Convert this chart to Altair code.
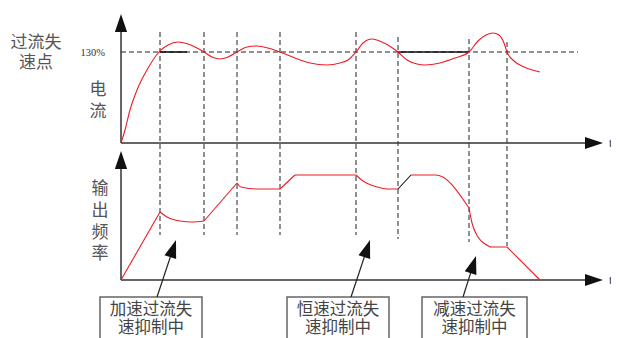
import math
import altair as alt
import pandas as pd

# ---------------- data (schematic coordinates, horizontal t / vertical v) ----------------
# current curve (top panel)
cur_t = [121, 125, 130, 137, 147, 159, 168, 178, 188, 197, 204, 212, 220, 228, 237, 247, 257, 268,
         280, 295, 310, 327, 340, 348, 356, 363, 372, 382, 391, 398, 407, 417, 425, 440, 455, 469,
         478, 486, 493, 499, 504, 507, 514, 524, 540]
cur_v = [143, 130, 110, 90, 70, 52, 45, 42, 44, 48, 52, 57, 59, 57, 52, 47, 46, 48,
         52, 58, 63, 65, 63, 60, 52, 43, 39, 42, 47, 52, 60, 64, 65, 63, 58, 52,
         41, 35, 33, 35, 43, 52, 61, 67, 72]

# output frequency (bottom panel), split into segments
freq_seg = [0, 0,
            1, 1, 1, 1, 1,
            2, 2,
            3, 3, 3, 3,
            4, 4,
            5, 5,
            6, 6, 6, 6, 6,
            7, 7,
            8, 8, 8,
            9, 9, 9, 9, 9, 9,
            10, 10]
freq_t = [121, 160,
          160, 167, 180, 192, 204,
          204, 237,
          237, 241, 257, 280,
          280, 295,
          295, 356,
          356, 363, 377, 387, 398,
          398, 411,
          411, 436, 469,
          469, 472, 478, 485, 492, 507,
          507, 540]
freq_v = [280, 212,
          212, 217, 221, 222, 221,
          221, 183,
          183, 187, 189, 189,
          189, 175,
          175, 175,
          175, 181, 187, 189, 189,
          189, 175,
          175, 175, 208,
          208, 223, 237, 244, 247, 247,
          247, 280]
seg_color = ["#ee1c25"] * 7 + ["#111111"] + ["#ee1c25"] * 3

# 130% level
level_v = 52
level_t = [121, 578]
solid_t1 = [160, 398]
solid_t2 = [187, 469]

# vertical dashed markers
mark_t = [160, 204, 237, 280, 356, 398, 469, 507]
mark_top = [32, 32, 32, 32, 32, 37, 39, 42]
mark_bot = [235, 235, 235, 235, 235, 239, 242, 246]

# annotation boxes
box_l = [100, 287, 422]
box_r = [202, 389, 527]
box_line1 = ["加速过流失", "恒速过流失", "减速过流失"]
box_line2 = ["速抑制中", "速抑制中", "速抑制中"]
arrow_t0 = [157, 351, 463]
arrow_v0 = [297, 297, 297]
arrow_t1 = [176, 370, 476]
arrow_v1 = [240, 240, 256]

# labels
left_labels = ["过流失", "速点", "电", "流", "输", "出", "频", "率"]
left_t = [36, 36, 98, 98, 100, 100, 100, 100]
left_v = [43, 63, 90, 112, 189, 211, 233, 254]

# axes
ax_origin_v = [143, 280]
ax_top = [14, 151]
ax_left = 121
ax_right = 603

# ---------------- scales ----------------
xs = alt.Scale(domain=[8, 611], nice=False, zero=False)
ys = alt.Scale(domain=[8, 338], nice=False, zero=False, reverse=True)
X = lambda f: alt.X(f, type="quantitative", scale=xs, axis=None)
Y = lambda f: alt.Y(f, type="quantitative", scale=ys, axis=None)

AXC = "#333333"
HEAD = "M0,-1L0.68,1L-0.68,1Z"
R = 9  # arrowhead half-length

# axis lines
ax_rows = []
for i, v0 in enumerate(ax_origin_v):
    ax_rows.append(dict(x=ax_left, y=v0, x2=ax_left, y2=ax_top[i] + 2 * R))
    ax_rows.append(dict(x=ax_left, y=v0, x2=ax_right - 2 * R, y2=v0))
axes = alt.Chart(pd.DataFrame(ax_rows)).mark_rule(color=AXC, strokeWidth=1.5).encode(
    x=X("x"), y=Y("y"), x2="x2", y2="y2")

head_rows = []
for i, v0 in enumerate(ax_origin_v):
    head_rows.append(dict(x=ax_left, y=ax_top[i] + R, a=0))
    head_rows.append(dict(x=ax_right - R, y=v0, a=90))
for i in range(3):
    dx = arrow_t1[i] - arrow_t0[i]
    dy = arrow_v1[i] - arrow_v0[i]
    L = math.hypot(dx, dy)
    ang = math.degrees(math.atan2(dx, -dy))
    head_rows.append(dict(x=arrow_t1[i] - R * dx / L, y=arrow_v1[i] - R * dy / L, a=ang))
heads = alt.Chart(pd.DataFrame(head_rows)).mark_point(
    shape=HEAD, filled=True, color="#111111", opacity=1, size=(2 * R) ** 2, strokeWidth=0
).encode(x=X("x"), y=Y("y"), angle=alt.Angle("a:Q", scale=None))

# annotation arrow shafts
shaft_rows = []
for i in range(3):
    dx = arrow_t1[i] - arrow_t0[i]
    dy = arrow_v1[i] - arrow_v0[i]
    L = math.hypot(dx, dy)
    shaft_rows.append(dict(x=arrow_t0[i], y=arrow_v0[i],
                           x2=arrow_t1[i] - R * dx / L, y2=arrow_v1[i] - R * dy / L))
shafts = alt.Chart(pd.DataFrame(shaft_rows)).mark_rule(color="#222222", strokeWidth=1.2).encode(
    x=X("x"), y=Y("y"), x2="x2", y2="y2")

# 130% dashed level and solid pieces
level = alt.Chart(pd.DataFrame(dict(x=[level_t[0]], x2=[level_t[1]], y=[level_v]))).mark_rule(
    color="#222222", strokeWidth=1.2, strokeDash=[5, 3]).encode(x=X("x"), x2="x2", y=Y("y"))
solid = alt.Chart(pd.DataFrame(dict(x=solid_t1, x2=solid_t2, y=[level_v] * 2))).mark_rule(
    color="#111111", strokeWidth=1.6).encode(x=X("x"), x2="x2", y=Y("y"))

# vertical dashed markers
vmarks = alt.Chart(pd.DataFrame(dict(x=mark_t, y=mark_top, y2=mark_bot))).mark_rule(
    color="#222222", strokeWidth=1, strokeDash=[5, 3]).encode(x=X("x"), y=Y("y"), y2="y2")

# current curve
cur = alt.Chart(pd.DataFrame(dict(x=cur_t, y=cur_v, i=range(len(cur_t))))).mark_line(
    color="#ee1c25", strokeWidth=1.1, interpolate="monotone").encode(
    x=X("x"), y=Y("y"), order="i:Q")

# frequency curve
fdf = pd.DataFrame(dict(x=freq_t, y=freq_v, seg=freq_seg, i=range(len(freq_t))))
fdf["col"] = [seg_color[s] for s in freq_seg]
freq = alt.Chart(fdf).mark_line(strokeWidth=1.1, interpolate="monotone").encode(
    x=X("x"), y=Y("y"), detail="seg:N", order="i:Q",
    color=alt.Color("col:N", scale=None))

# boxes
boxes = alt.Chart(pd.DataFrame(dict(x=box_l, x2=box_r, y=[297] * 3, y2=[346] * 3))).mark_rect(
    fill="white", fillOpacity=0, stroke="#666666", strokeWidth=1.5, clip=True).encode(
    x=X("x"), x2="x2", y=Y("y"), y2="y2")

box_cx = [(a + b) / 2 for a, b in zip(box_l, box_r)]
btxt = pd.DataFrame(dict(x=box_cx * 2, y=[310] * 3 + [328] * 3, t=box_line1 + box_line2))
box_text = alt.Chart(btxt).mark_text(
    font="Noto Sans CJK SC", fontSize=16.5, color="#444444", align="center", baseline="middle").encode(
    x=X("x"), y=Y("y"), text="t:N")

left_text = alt.Chart(pd.DataFrame(dict(x=left_t, y=left_v, t=left_labels))).mark_text(
    font="Noto Sans CJK SC", fontSize=17, color="#555555", align="center", baseline="middle").encode(
    x=X("x"), y=Y("y"), text="t:N")

pct_text = alt.Chart(pd.DataFrame(dict(x=[105], y=[level_v + 1], t=["130%"]))).mark_text(
    font="Liberation Serif", fontSize=10.5, color="#333333", align="right", baseline="middle").encode(
    x=X("x"), y=Y("y"), text="t:N")

t_text = alt.Chart(pd.DataFrame(dict(x=[609, 609], y=ax_origin_v, t=["t", "t"]))).mark_text(
    font="Liberation Serif", fontSize=12, color="#333333", align="left", baseline="middle").encode(
    x=X("x"), y=Y("y"), text="t:N")

chart = alt.layer(
    vmarks, level, solid, axes, cur, freq, boxes, shafts, heads, box_text, left_text, pct_text, t_text
).properties(
    width=603, height=330, padding=0, background="white",
    autosize=alt.AutoSizeParams(type="none"),
).configure_view(stroke=None)

chart.save("out.html", embed_options={"renderer": "svg", "actions": False})
